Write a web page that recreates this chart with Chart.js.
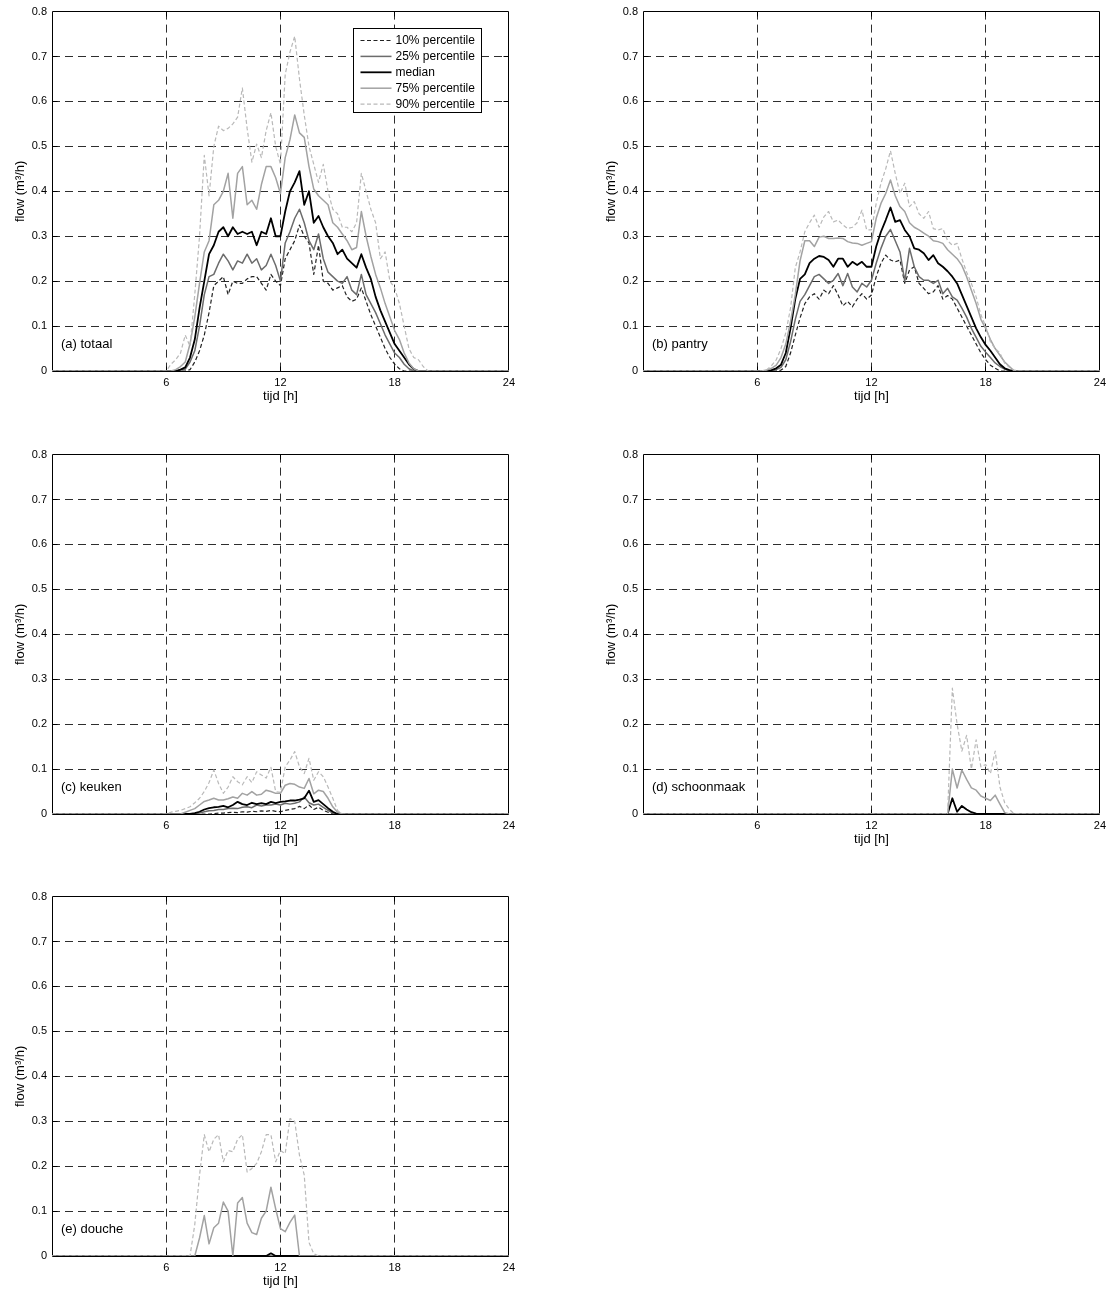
<!DOCTYPE html>
<html>
<head>
<meta charset="utf-8">
<title>Tapwaterdebiet per tappunt</title>
<script src="https://cdn.jsdelivr.net/npm/chart.js@4.4.1/dist/chart.umd.min.js"></script>
<style>
  html, body { margin: 0; padding: 0; background: #fff; overflow: hidden; }
  #page { position: relative; width: 1111px; height: 1290px; background: #fff; }
  #page canvas { position: absolute; }
</style>
</head>
<body>
<div id="page">
  <canvas id="c-totaal"     width="520" height="415" style="left:0px;   top:0px;"></canvas>
  <canvas id="c-pantry"     width="520" height="415" style="left:591px; top:0px;"></canvas>
  <canvas id="c-keuken"     width="520" height="415" style="left:0px;   top:443px;"></canvas>
  <canvas id="c-schoonmaak" width="520" height="415" style="left:591px; top:443px;"></canvas>
  <canvas id="c-douche"     width="520" height="415" style="left:0px;   top:885px;"></canvas>
</div>
<script>
// Quarter-hour time axis over one day (0 ... 24 h), 97 samples.
const hours = Array.from({ length: 97 }, (_, i) => i / 4);

const xTickValues = [6, 12, 18, 24];
const xTickLabels = ['6', '12', '18', '24'];
const yTickValues = [0, 0.1, 0.2, 0.3, 0.4, 0.5, 0.6, 0.7, 0.8];
const yTickLabels = ['0', '0.1', '0.2', '0.3', '0.4', '0.5', '0.6', '0.7', '0.8'];

const seriesNames = ['10% percentile', '25% percentile', 'median', '75% percentile', '90% percentile'];

// Flow in m3/h, one value per quarter hour. Rows: 0-5 h, then one row per hour 6..19, then 20-24 h.
// (a) totaal
const totaal_p10 = [
  0, 0, 0, 0, 0, 0, 0, 0, 0, 0, 0, 0, 0, 0, 0, 0, 0, 0, 0, 0, 0, 0, 0, 0,
  0, 0, 0, 0,
  0, 0.003, 0.02, 0.045,
  0.08, 0.13, 0.19, 0.20,
  0.21, 0.17, 0.20, 0.195,
  0.195, 0.205, 0.21, 0.21,
  0.195, 0.18, 0.215, 0.20,
  0.19, 0.25, 0.27, 0.29,
  0.325, 0.30, 0.285, 0.215,
  0.28, 0.20, 0.195, 0.18,
  0.185, 0.19, 0.165, 0.155,
  0.16, 0.185, 0.155, 0.125,
  0.10, 0.075, 0.05, 0.03,
  0.015, 0.005, 0, 0,
  0, 0, 0, 0,
  0, 0, 0, 0, 0, 0, 0, 0, 0, 0, 0, 0, 0, 0, 0, 0, 0
];
const totaal_p25 = [
  0, 0, 0, 0, 0, 0, 0, 0, 0, 0, 0, 0, 0, 0, 0, 0, 0, 0, 0, 0, 0, 0, 0, 0,
  0, 0, 0, 0.002,
  0.004, 0.02, 0.045, 0.10,
  0.17, 0.21, 0.215, 0.24,
  0.26, 0.245, 0.225, 0.245,
  0.24, 0.26, 0.24, 0.25,
  0.225, 0.235, 0.26, 0.235,
  0.20, 0.285, 0.31, 0.34,
  0.36, 0.33, 0.29, 0.27,
  0.305, 0.25, 0.22, 0.21,
  0.20, 0.195, 0.21, 0.18,
  0.17, 0.215, 0.17, 0.15,
  0.13, 0.105, 0.08, 0.06,
  0.04, 0.03, 0.015, 0.005,
  0, 0, 0, 0,
  0, 0, 0, 0, 0, 0, 0, 0, 0, 0, 0, 0, 0, 0, 0, 0, 0
];
const totaal_median = [
  0, 0, 0, 0, 0, 0, 0, 0, 0, 0, 0, 0, 0, 0, 0, 0, 0, 0, 0, 0, 0, 0, 0, 0,
  0, 0, 0, 0.003,
  0.008, 0.03, 0.07, 0.14,
  0.20, 0.26, 0.28, 0.31,
  0.32, 0.30, 0.32, 0.305,
  0.31, 0.305, 0.31, 0.28,
  0.31, 0.305, 0.34, 0.30,
  0.30, 0.355, 0.40, 0.42,
  0.445, 0.37, 0.40, 0.33,
  0.345, 0.32, 0.30, 0.285,
  0.26, 0.27, 0.25, 0.24,
  0.23, 0.26, 0.23, 0.205,
  0.165, 0.135, 0.11, 0.085,
  0.06, 0.045, 0.03, 0.015,
  0.004, 0, 0, 0,
  0, 0, 0, 0, 0, 0, 0, 0, 0, 0, 0, 0, 0, 0, 0, 0, 0
];
const totaal_p75 = [
  0, 0, 0, 0, 0, 0, 0, 0, 0, 0, 0, 0, 0, 0, 0, 0, 0, 0, 0, 0, 0, 0, 0, 0,
  0, 0, 0.003, 0.01,
  0.02, 0.06, 0.12, 0.195,
  0.265, 0.29, 0.37, 0.38,
  0.40, 0.44, 0.34, 0.44,
  0.455, 0.37, 0.38, 0.36,
  0.415, 0.455, 0.455, 0.43,
  0.395, 0.475, 0.515, 0.57,
  0.53, 0.52, 0.455, 0.405,
  0.39, 0.38, 0.37, 0.33,
  0.32, 0.305, 0.29, 0.27,
  0.275, 0.355, 0.30, 0.255,
  0.215, 0.185, 0.15, 0.12,
  0.09, 0.07, 0.04, 0.018,
  0.005, 0, 0, 0,
  0, 0, 0, 0, 0, 0, 0, 0, 0, 0, 0, 0, 0, 0, 0, 0, 0
];
const totaal_p90 = [
  0, 0, 0, 0, 0, 0, 0, 0, 0, 0, 0, 0, 0, 0, 0, 0, 0, 0, 0, 0, 0, 0, 0, 0,
  0, 0.015, 0.025, 0.04,
  0.08, 0.055, 0.17, 0.30,
  0.48, 0.39, 0.50, 0.545,
  0.535, 0.54, 0.55, 0.565,
  0.63, 0.54, 0.465, 0.505,
  0.475, 0.535, 0.575, 0.50,
  0.46, 0.66, 0.71, 0.745,
  0.65, 0.57, 0.50, 0.46,
  0.42, 0.46, 0.40, 0.36,
  0.35, 0.32, 0.32, 0.31,
  0.33, 0.44, 0.40, 0.36,
  0.33, 0.25, 0.265, 0.20,
  0.185, 0.15, 0.10, 0.05,
  0.03, 0.025, 0.01, 0,
  0, 0, 0, 0, 0, 0, 0, 0, 0, 0, 0, 0, 0, 0, 0, 0, 0
];

// (b) pantry
const pantry_p10 = [
  0, 0, 0, 0, 0, 0, 0, 0, 0, 0, 0, 0, 0, 0, 0, 0, 0, 0, 0, 0, 0, 0, 0, 0,
  0, 0, 0, 0,
  0, 0.002, 0.01, 0.04,
  0.08, 0.118, 0.15, 0.165,
  0.172, 0.16, 0.18, 0.172,
  0.19, 0.169, 0.145, 0.155,
  0.143, 0.16, 0.172, 0.16,
  0.169, 0.21, 0.24, 0.258,
  0.247, 0.243, 0.247, 0.195,
  0.225, 0.232, 0.195, 0.184,
  0.172, 0.176, 0.19, 0.16,
  0.168, 0.16, 0.14, 0.12,
  0.10, 0.08, 0.06, 0.04,
  0.025, 0.013, 0.006, 0,
  0, 0, 0, 0,
  0, 0, 0, 0, 0, 0, 0, 0, 0, 0, 0, 0, 0, 0, 0, 0, 0
];
const pantry_p25 = [
  0, 0, 0, 0, 0, 0, 0, 0, 0, 0, 0, 0, 0, 0, 0, 0, 0, 0, 0, 0, 0, 0, 0, 0,
  0, 0, 0, 0,
  0.003, 0.008, 0.025, 0.065,
  0.115, 0.155, 0.17, 0.19,
  0.21, 0.215, 0.205, 0.195,
  0.202, 0.217, 0.19, 0.217,
  0.187, 0.176, 0.195, 0.187,
  0.202, 0.24, 0.273, 0.30,
  0.315, 0.29, 0.265, 0.20,
  0.273, 0.232, 0.21, 0.202,
  0.202, 0.195, 0.202, 0.172,
  0.184, 0.165, 0.158, 0.14,
  0.12, 0.095, 0.075, 0.055,
  0.042, 0.03, 0.018, 0.01,
  0.004, 0, 0, 0,
  0, 0, 0, 0, 0, 0, 0, 0, 0, 0, 0, 0, 0, 0, 0, 0, 0
];
const pantry_median = [
  0, 0, 0, 0, 0, 0, 0, 0, 0, 0, 0, 0, 0, 0, 0, 0, 0, 0, 0, 0, 0, 0, 0, 0,
  0, 0, 0, 0.002,
  0.006, 0.014, 0.04, 0.095,
  0.16, 0.205, 0.215, 0.24,
  0.25, 0.256, 0.254, 0.247,
  0.232, 0.25, 0.25, 0.232,
  0.243, 0.236, 0.243, 0.232,
  0.232, 0.277, 0.31, 0.336,
  0.364, 0.332, 0.336, 0.314,
  0.30, 0.273, 0.27, 0.262,
  0.247, 0.258, 0.24, 0.232,
  0.222, 0.21, 0.195, 0.17,
  0.145, 0.12, 0.095, 0.075,
  0.058, 0.045, 0.03, 0.015,
  0.006, 0.002, 0, 0,
  0, 0, 0, 0, 0, 0, 0, 0, 0, 0, 0, 0, 0, 0, 0, 0, 0
];
const pantry_p75 = [
  0, 0, 0, 0, 0, 0, 0, 0, 0, 0, 0, 0, 0, 0, 0, 0, 0, 0, 0, 0, 0, 0, 0, 0,
  0, 0, 0.002, 0.006,
  0.013, 0.03, 0.06, 0.11,
  0.17, 0.245, 0.29, 0.29,
  0.277, 0.298, 0.30, 0.295,
  0.295, 0.296, 0.295, 0.288,
  0.285, 0.284, 0.28, 0.284,
  0.288, 0.34, 0.373, 0.395,
  0.425, 0.39, 0.366, 0.355,
  0.33, 0.32, 0.314, 0.307,
  0.30, 0.29, 0.288, 0.284,
  0.27, 0.26, 0.25, 0.235,
  0.21, 0.18, 0.15, 0.115,
  0.095, 0.07, 0.05, 0.035,
  0.02, 0.01, 0, 0,
  0, 0, 0, 0, 0, 0, 0, 0, 0, 0, 0, 0, 0, 0, 0, 0, 0
];
const pantry_p90 = [
  0, 0, 0, 0, 0, 0, 0, 0, 0, 0, 0, 0, 0, 0, 0, 0, 0, 0, 0, 0, 0, 0, 0, 0,
  0, 0, 0.003, 0.012,
  0.025, 0.05, 0.085, 0.14,
  0.23, 0.265, 0.31, 0.33,
  0.347, 0.32, 0.343, 0.355,
  0.332, 0.336, 0.325, 0.317,
  0.32, 0.33, 0.358, 0.314,
  0.314, 0.373, 0.418, 0.45,
  0.49, 0.44, 0.395, 0.418,
  0.366, 0.377, 0.35, 0.34,
  0.355, 0.317, 0.314, 0.317,
  0.29, 0.28, 0.284, 0.25,
  0.22, 0.195, 0.165, 0.125,
  0.10, 0.065, 0.05, 0.04,
  0.017, 0.008, 0.002, 0,
  0, 0, 0, 0, 0, 0, 0, 0, 0, 0, 0, 0, 0, 0, 0, 0, 0
];

// (c) keuken
const keuken_p10 = [
  0, 0, 0, 0, 0, 0, 0, 0, 0, 0, 0, 0, 0, 0, 0, 0, 0, 0, 0, 0, 0, 0, 0, 0,
  0, 0, 0, 0,
  0, 0, 0, 0,
  0, 0, 0.001, 0.002,
  0.002, 0.003, 0.004, 0.003,
  0.005, 0.004, 0.006, 0.005,
  0.007, 0.006, 0.008, 0.006,
  0.005, 0.008, 0.01, 0.012,
  0.017, 0.012, 0.02, 0.01,
  0.015, 0.008, 0.004, 0.001,
  0, 0, 0, 0,
  0, 0, 0, 0,
  0, 0, 0, 0,
  0, 0, 0, 0,
  0, 0, 0, 0,
  0, 0, 0, 0, 0, 0, 0, 0, 0, 0, 0, 0, 0, 0, 0, 0, 0
];
const keuken_p25 = [
  0, 0, 0, 0, 0, 0, 0, 0, 0, 0, 0, 0, 0, 0, 0, 0, 0, 0, 0, 0, 0, 0, 0, 0,
  0, 0, 0, 0,
  0, 0, 0, 0.002,
  0.005, 0.007, 0.008, 0.01,
  0.01, 0.012, 0.013, 0.012,
  0.015, 0.016, 0.014, 0.02,
  0.018, 0.02, 0.02, 0.022,
  0.02, 0.024, 0.022, 0.024,
  0.027, 0.038, 0.025, 0.02,
  0.022, 0.015, 0.008, 0.002,
  0, 0, 0, 0,
  0, 0, 0, 0,
  0, 0, 0, 0,
  0, 0, 0, 0,
  0, 0, 0, 0,
  0, 0, 0, 0, 0, 0, 0, 0, 0, 0, 0, 0, 0, 0, 0, 0, 0
];
const keuken_median = [
  0, 0, 0, 0, 0, 0, 0, 0, 0, 0, 0, 0, 0, 0, 0, 0, 0, 0, 0, 0, 0, 0, 0, 0,
  0, 0, 0, 0,
  0, 0, 0.002, 0.005,
  0.01, 0.013, 0.015, 0.016,
  0.018, 0.015, 0.02, 0.027,
  0.022, 0.02, 0.025, 0.022,
  0.024, 0.022, 0.027, 0.024,
  0.027, 0.028, 0.03, 0.03,
  0.032, 0.035, 0.052, 0.027,
  0.031, 0.022, 0.013, 0.005,
  0, 0, 0, 0,
  0, 0, 0, 0,
  0, 0, 0, 0,
  0, 0, 0, 0,
  0, 0, 0, 0,
  0, 0, 0, 0, 0, 0, 0, 0, 0, 0, 0, 0, 0, 0, 0, 0, 0
];
const keuken_p75 = [
  0, 0, 0, 0, 0, 0, 0, 0, 0, 0, 0, 0, 0, 0, 0, 0, 0, 0, 0, 0, 0, 0, 0, 0,
  0, 0, 0, 0,
  0.004, 0.008, 0.012, 0.02,
  0.028, 0.031, 0.035, 0.031,
  0.031, 0.034, 0.038, 0.035,
  0.046, 0.042, 0.05, 0.042,
  0.044, 0.053, 0.05, 0.046,
  0.046, 0.064, 0.068, 0.066,
  0.06, 0.057, 0.079, 0.045,
  0.053, 0.05, 0.035, 0.016,
  0.004, 0, 0, 0,
  0, 0, 0, 0,
  0, 0, 0, 0,
  0, 0, 0, 0,
  0, 0, 0, 0,
  0, 0, 0, 0, 0, 0, 0, 0, 0, 0, 0, 0, 0, 0, 0, 0, 0
];
const keuken_p90 = [
  0, 0, 0, 0, 0, 0, 0, 0, 0, 0, 0, 0, 0, 0, 0, 0, 0, 0, 0, 0, 0, 0, 0, 0,
  0, 0.004, 0.006, 0.008,
  0.012, 0.016, 0.025, 0.035,
  0.05, 0.07, 0.098, 0.068,
  0.046, 0.06, 0.083, 0.072,
  0.065, 0.083, 0.07, 0.094,
  0.087, 0.08, 0.104, 0.05,
  0.048, 0.105, 0.12, 0.139,
  0.105, 0.09, 0.124, 0.075,
  0.094, 0.083, 0.06, 0.035,
  0.008, 0, 0, 0,
  0, 0, 0, 0,
  0, 0, 0, 0,
  0, 0, 0, 0,
  0, 0, 0, 0,
  0, 0, 0, 0, 0, 0, 0, 0, 0, 0, 0, 0, 0, 0, 0, 0, 0
];

// (d) schoonmaak
const schoonmaak_p10 = [
  0, 0, 0, 0, 0, 0, 0, 0, 0, 0, 0, 0, 0, 0, 0, 0, 0, 0, 0, 0, 0, 0, 0, 0,
  0, 0, 0, 0, 0, 0, 0, 0, 0, 0, 0, 0, 0, 0, 0, 0, 0, 0, 0, 0, 0, 0, 0, 0, 0, 0, 0, 0, 0, 0, 0, 0,
  0, 0, 0, 0, 0, 0, 0, 0, 0, 0, 0, 0, 0, 0, 0, 0, 0, 0, 0, 0, 0, 0, 0, 0, 0, 0, 0, 0, 0, 0, 0, 0,
  0, 0, 0, 0, 0, 0, 0, 0, 0, 0, 0, 0, 0, 0, 0, 0, 0
];
const schoonmaak_p25 = [
  0, 0, 0, 0, 0, 0, 0, 0, 0, 0, 0, 0, 0, 0, 0, 0, 0, 0, 0, 0, 0, 0, 0, 0,
  0, 0, 0, 0, 0, 0, 0, 0, 0, 0, 0, 0, 0, 0, 0, 0, 0, 0, 0, 0, 0, 0, 0, 0, 0, 0, 0, 0, 0, 0, 0, 0,
  0, 0, 0, 0, 0, 0, 0, 0, 0, 0, 0, 0, 0, 0, 0, 0, 0, 0, 0, 0, 0, 0, 0, 0, 0, 0, 0, 0, 0, 0, 0, 0,
  0, 0, 0, 0, 0, 0, 0, 0, 0, 0, 0, 0, 0, 0, 0, 0, 0
];
const schoonmaak_median = [
  0, 0, 0, 0, 0, 0, 0, 0, 0, 0, 0, 0, 0, 0, 0, 0, 0, 0, 0, 0, 0, 0, 0, 0,
  0, 0, 0, 0,
  0, 0, 0, 0,
  0, 0, 0, 0,
  0, 0, 0, 0,
  0, 0, 0, 0,
  0, 0, 0, 0,
  0, 0, 0, 0,
  0, 0, 0, 0,
  0, 0, 0, 0,
  0, 0, 0, 0,
  0, 0.035, 0.005, 0.018,
  0.01, 0.004, 0.001, 0,
  0, 0, 0, 0,
  0, 0, 0, 0,
  0, 0, 0, 0, 0, 0, 0, 0, 0, 0, 0, 0, 0, 0, 0, 0, 0
];
const schoonmaak_p75 = [
  0, 0, 0, 0, 0, 0, 0, 0, 0, 0, 0, 0, 0, 0, 0, 0, 0, 0, 0, 0, 0, 0, 0, 0,
  0, 0, 0, 0,
  0, 0, 0, 0,
  0, 0, 0, 0,
  0, 0, 0, 0,
  0, 0, 0, 0,
  0, 0, 0, 0,
  0, 0, 0, 0,
  0, 0, 0, 0,
  0, 0, 0, 0,
  0, 0, 0, 0,
  0, 0.10, 0.058, 0.098,
  0.077, 0.058, 0.053, 0.04,
  0.035, 0.03, 0.042, 0.022,
  0.003, 0, 0, 0,
  0, 0, 0, 0, 0, 0, 0, 0, 0, 0, 0, 0, 0, 0, 0, 0, 0
];
const schoonmaak_p90 = [
  0, 0, 0, 0, 0, 0, 0, 0, 0, 0, 0, 0, 0, 0, 0, 0, 0, 0, 0, 0, 0, 0, 0, 0,
  0, 0, 0, 0,
  0, 0, 0, 0,
  0, 0, 0, 0,
  0, 0, 0, 0,
  0, 0, 0, 0,
  0, 0, 0, 0,
  0, 0, 0, 0,
  0, 0, 0, 0,
  0, 0, 0, 0,
  0, 0, 0, 0,
  0, 0.28, 0.20, 0.14,
  0.175, 0.10, 0.165, 0.105,
  0.11, 0.09, 0.14, 0.06,
  0.025, 0.01, 0, 0,
  0, 0, 0, 0, 0, 0, 0, 0, 0, 0, 0, 0, 0, 0, 0, 0, 0
];

// (e) douche
const douche_p10 = [
  0, 0, 0, 0, 0, 0, 0, 0, 0, 0, 0, 0, 0, 0, 0, 0, 0, 0, 0, 0, 0, 0, 0, 0,
  0, 0, 0, 0, 0, 0, 0, 0, 0, 0, 0, 0, 0, 0, 0, 0, 0, 0, 0, 0, 0, 0, 0, 0, 0, 0, 0, 0, 0, 0, 0, 0,
  0, 0, 0, 0, 0, 0, 0, 0, 0, 0, 0, 0, 0, 0, 0, 0, 0, 0, 0, 0, 0, 0, 0, 0, 0, 0, 0, 0, 0, 0, 0, 0,
  0, 0, 0, 0, 0, 0, 0, 0, 0, 0, 0, 0, 0, 0, 0, 0, 0
];
const douche_p25 = [
  0, 0, 0, 0, 0, 0, 0, 0, 0, 0, 0, 0, 0, 0, 0, 0, 0, 0, 0, 0, 0, 0, 0, 0,
  0, 0, 0, 0, 0, 0, 0, 0, 0, 0, 0, 0, 0, 0, 0, 0, 0, 0, 0, 0, 0, 0, 0, 0, 0, 0, 0, 0, 0, 0, 0, 0,
  0, 0, 0, 0, 0, 0, 0, 0, 0, 0, 0, 0, 0, 0, 0, 0, 0, 0, 0, 0, 0, 0, 0, 0, 0, 0, 0, 0, 0, 0, 0, 0,
  0, 0, 0, 0, 0, 0, 0, 0, 0, 0, 0, 0, 0, 0, 0, 0, 0
];
const douche_median = [
  0, 0, 0, 0, 0, 0, 0, 0, 0, 0, 0, 0, 0, 0, 0, 0, 0, 0, 0, 0, 0, 0, 0, 0,
  0, 0, 0, 0,
  0, 0, 0, 0,
  0, 0, 0, 0,
  0, 0, 0, 0,
  0, 0, 0, 0,
  0, 0, 0.006, 0,
  0, 0, 0, 0,
  0, 0, 0, 0,
  0, 0, 0, 0,
  0, 0, 0, 0,
  0, 0, 0, 0,
  0, 0, 0, 0,
  0, 0, 0, 0,
  0, 0, 0, 0,
  0, 0, 0, 0, 0, 0, 0, 0, 0, 0, 0, 0, 0, 0, 0, 0, 0
];
const douche_p75 = [
  0, 0, 0, 0, 0, 0, 0, 0, 0, 0, 0, 0, 0, 0, 0, 0, 0, 0, 0, 0, 0, 0, 0, 0,
  0, 0, 0, 0,
  0, 0, 0, 0.04,
  0.09, 0.027, 0.063, 0.073,
  0.12, 0.10, 0, 0.118,
  0.13, 0.073, 0.052, 0.048,
  0.084, 0.10, 0.153, 0.105,
  0.061, 0.054, 0.075, 0.091,
  0, 0, 0, 0,
  0, 0, 0, 0,
  0, 0, 0, 0,
  0, 0, 0, 0,
  0, 0, 0, 0,
  0, 0, 0, 0,
  0, 0, 0, 0,
  0, 0, 0, 0, 0, 0, 0, 0, 0, 0, 0, 0, 0, 0, 0, 0, 0
];
const douche_p90 = [
  0, 0, 0, 0, 0, 0, 0, 0, 0, 0, 0, 0, 0, 0, 0, 0, 0, 0, 0, 0, 0, 0, 0, 0,
  0, 0, 0, 0,
  0, 0, 0.07, 0.18,
  0.27, 0.232, 0.26, 0.27,
  0.21, 0.235, 0.232, 0.26,
  0.27, 0.187, 0.195, 0.206,
  0.232, 0.27, 0.27, 0.21,
  0.235, 0.228, 0.306, 0.30,
  0.224, 0.18, 0.03, 0.005,
  0, 0, 0, 0,
  0, 0, 0, 0,
  0, 0, 0, 0,
  0, 0, 0, 0,
  0, 0, 0, 0,
  0, 0, 0, 0,
  0, 0, 0, 0, 0, 0, 0, 0, 0, 0, 0, 0, 0, 0, 0, 0, 0
];

// Line style per percentile series (10%, 25%, median, 75%, 90%).
const seriesStyles = [
  { color: '#222222', width: 1.2, dash: [4, 2.5] },
  { color: '#6c6c6c', width: 1.5, dash: [] },
  { color: '#000000', width: 1.8, dash: [] },
  { color: '#a2a2a2', width: 1.5, dash: [] },
  { color: '#b9b9b9', width: 1.2, dash: [4, 2.5] }
];

Chart.defaults.font.family = "'Liberation Sans', Arial, Helvetica, sans-serif";
Chart.defaults.color = '#000';

const FONT = "'Liberation Sans', Arial, Helvetica, sans-serif";
const GRID_COLOR = '#2e2e2e';

function alignPx(p) { return Math.round(p - 0.5) + 0.5; }

// Axes box with inward tick marks, panel caption and (optionally) the legend.
const panelFrame = {
  id: 'panelFrame',
  beforeDatasetsDraw(chart) {
    const { ctx, chartArea: a, scales: { x, y } } = chart;
    const L = alignPx(a.left), R = alignPx(a.right), T = alignPx(a.top), B = alignPx(a.bottom);
    ctx.save();
    ctx.setLineDash([]);
    ctx.strokeStyle = '#000';
    ctx.lineWidth = 1;
    ctx.beginPath();
    ctx.rect(L, T, R - L, B - T);
    xTickValues.forEach(v => {
      if (v <= x.min || v >= x.max) return;
      const px = alignPx(x.getPixelForValue(v));
      ctx.moveTo(px, B); ctx.lineTo(px, B - 5);
      ctx.moveTo(px, T); ctx.lineTo(px, T + 5);
    });
    yTickValues.forEach(v => {
      if (v <= y.min || v >= y.max) return;
      const py = alignPx(y.getPixelForValue(v));
      ctx.moveTo(L, py); ctx.lineTo(L + 5, py);
      ctx.moveTo(R, py); ctx.lineTo(R - 5, py);
    });
    ctx.stroke();
    ctx.restore();
  },
  afterDatasetsDraw(chart, args, opts) {
    const { ctx, chartArea: a } = chart;
    ctx.save();
    ctx.fillStyle = '#000';
    ctx.font = '13px ' + FONT;
    ctx.textBaseline = 'middle';
    ctx.textAlign = 'left';
    ctx.fillText(opts.label, a.left + 9, a.bottom - 27);

    if (opts.legend) {
      const bx = alignPx(a.right - 155), by = alignPx(a.top + 17);
      const bw = 128, bh = 84;
      ctx.setLineDash([]);
      ctx.fillStyle = '#fff';
      ctx.fillRect(bx, by, bw, bh);
      ctx.strokeStyle = '#000';
      ctx.lineWidth = 1;
      ctx.strokeRect(bx, by, bw, bh);
      ctx.font = '12px ' + FONT;
      chart.data.datasets.forEach((ds, i) => {
        const ly = by + 12 + i * 15.9;
        ctx.save();
        ctx.strokeStyle = ds.borderColor;
        ctx.lineWidth = ds.borderWidth;
        ctx.setLineDash(ds.borderDash || []);
        ctx.beginPath();
        ctx.moveTo(bx + 7, ly);
        ctx.lineTo(bx + 38, ly);
        ctx.stroke();
        ctx.restore();
        ctx.fillStyle = '#000';
        ctx.fillText(ds.label, bx + 42, ly + 0.5);
      });
    }
    ctx.restore();
  }
};

function drawPanel(canvasId, caption, seriesValues, withLegend) {
  const datasets = seriesValues.map((values, i) => ({
    label: seriesNames[i],
    data: hours.map((h, k) => ({ x: h, y: values[k] })),
    borderColor: seriesStyles[i].color,
    borderWidth: seriesStyles[i].width,
    borderDash: seriesStyles[i].dash,
    borderJoinStyle: 'round',
    pointRadius: 0,
    pointHoverRadius: 0,
    tension: 0,
    fill: false,
    order: seriesValues.length - i
  }));

  return new Chart(document.getElementById(canvasId), {
    type: 'line',
    data: { datasets },
    options: {
      responsive: false,
      animation: false,
      devicePixelRatio: 1,
      events: [],
      layout: { padding: { top: 11, right: 10, bottom: 0, left: 0 } },
      plugins: {
        legend: { display: false },
        tooltip: { enabled: false },
        panelFrame: { label: caption, legend: withLegend }
      },
      scales: {
        x: {
          type: 'linear',
          min: 0,
          max: 24,
          afterBuildTicks: s => { s.ticks = xTickValues.map(v => ({ value: v })); },
          afterFit: s => { s.height = 44; },
          grid: {
            drawTicks: false,
            lineWidth: 1,
            color: c => (c.tick && c.tick.value >= 24) ? 'rgba(0,0,0,0)' : GRID_COLOR
          },
          border: { display: false, dash: [8, 5] },
          ticks: {
            autoSkip: false,
            maxRotation: 0,
            padding: 5,
            color: '#000',
            font: { size: 11 },
            callback: (v, i) => xTickLabels[i]
          },
          title: {
            display: true,
            text: 'tijd [h]',
            color: '#000',
            font: { size: 13 },
            padding: { top: 0, bottom: 11 }
          }
        },
        y: {
          type: 'linear',
          min: 0,
          max: 0.8,
          afterBuildTicks: s => { s.ticks = yTickValues.map(v => ({ value: v })); },
          afterFit: s => { s.width = 52; },
          grid: {
            drawTicks: false,
            lineWidth: 1,
            color: c => (c.tick && (c.tick.value <= 0 || c.tick.value >= 0.8)) ? 'rgba(0,0,0,0)' : GRID_COLOR
          },
          border: { display: false, dash: [8, 5] },
          ticks: {
            padding: 5,
            color: '#000',
            font: { size: 11 },
            callback: (v, i) => yTickLabels[i]
          },
          title: {
            display: true,
            text: 'flow (m³/h)',
            color: '#000',
            font: { size: 13 },
            padding: { top: 13, bottom: 0 }
          }
        }
      }
    },
    plugins: [panelFrame]
  });
}

drawPanel('c-totaal', '(a) totaal',
  [totaal_p10, totaal_p25, totaal_median, totaal_p75, totaal_p90], true);
drawPanel('c-pantry', '(b) pantry',
  [pantry_p10, pantry_p25, pantry_median, pantry_p75, pantry_p90], false);
drawPanel('c-keuken', '(c) keuken',
  [keuken_p10, keuken_p25, keuken_median, keuken_p75, keuken_p90], false);
drawPanel('c-schoonmaak', '(d) schoonmaak',
  [schoonmaak_p10, schoonmaak_p25, schoonmaak_median, schoonmaak_p75, schoonmaak_p90], false);
drawPanel('c-douche', '(e) douche',
  [douche_p10, douche_p25, douche_median, douche_p75, douche_p90], false);
</script>
</body>
</html>
